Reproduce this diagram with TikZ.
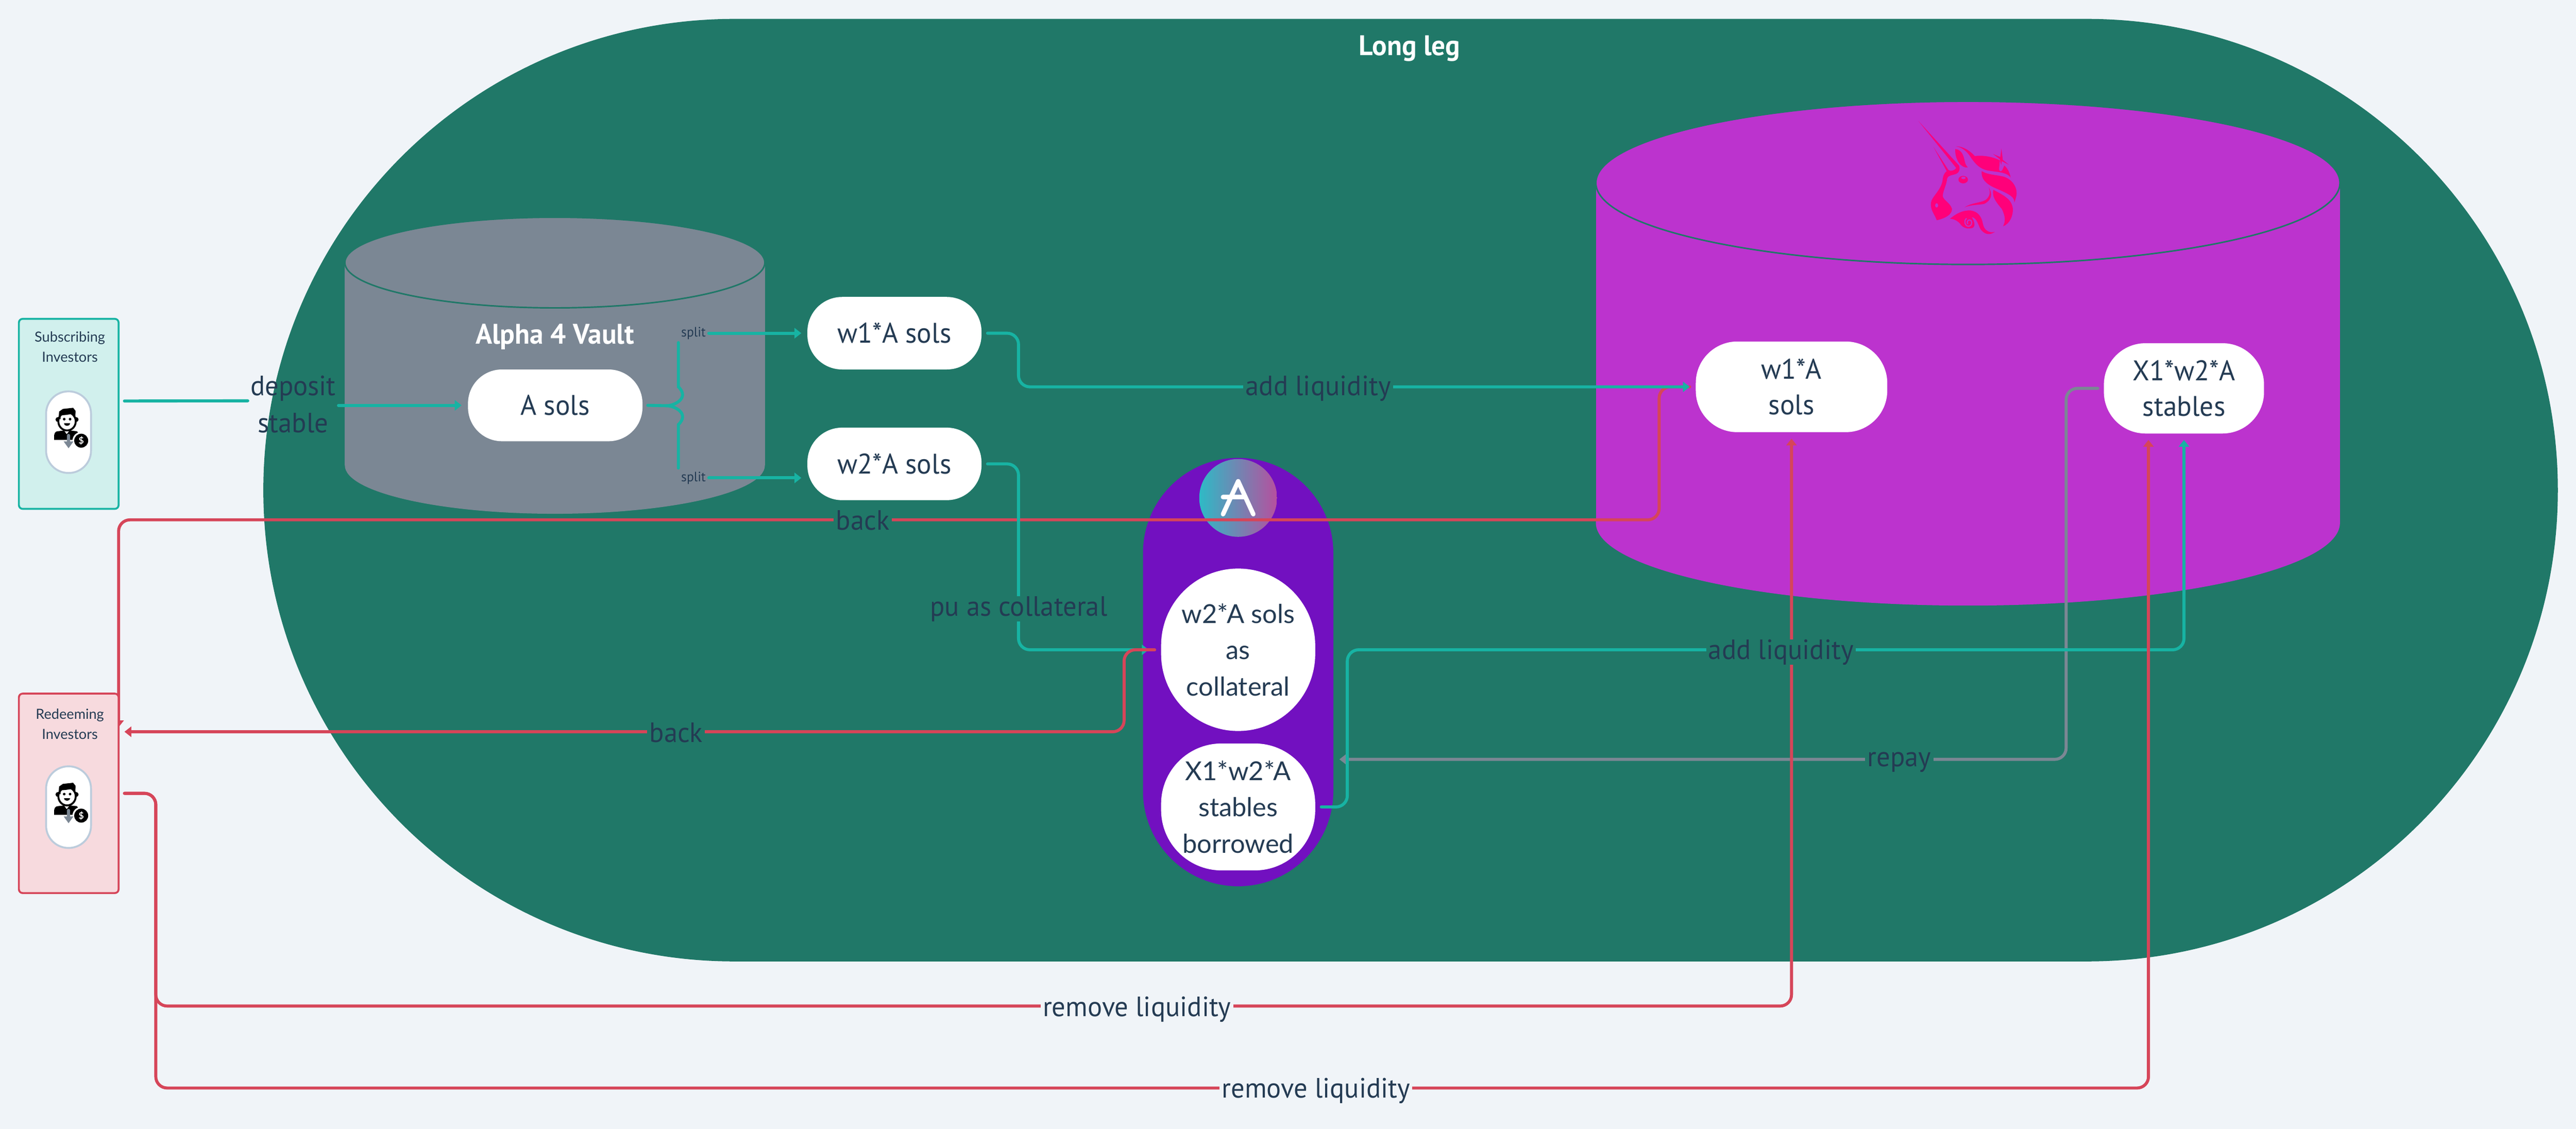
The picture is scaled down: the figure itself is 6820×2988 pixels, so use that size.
\documentclass[tikz,border=0pt]{standalone}
\usepackage{fontspec}
\usepackage{tikz}
\usetikzlibrary{arrows.meta,positioning,calc}

\setmainfont{PT Sans}
\newfontfamily\dinfont[FakeStretch=0.97]{PT Sans}
\newfontfamily\roundfont{Lato}

\definecolor{pagebg}{HTML}{F0F4F8}
\definecolor{leggreen}{HTML}{207868}
\definecolor{vaultgrey}{HTML}{7B8794}
\definecolor{poolpink}{HTML}{BC33CE}
\definecolor{aaveviolet}{HTML}{7210C0}
\definecolor{aaveteal}{HTML}{2EBAC6}
\definecolor{aavepink}{HTML}{B6509E}
\definecolor{linkteal}{HTML}{17B3A3}
\definecolor{linkred}{HTML}{D64559}
\definecolor{inkblue}{HTML}{243B53}
\definecolor{unipink}{HTML}{FF007A}
\definecolor{pillrim}{HTML}{BCCCDC}

\tikzset{
  pillnode/.style={fill=white, text=inkblue, inner sep=0pt, align=center,
    font=\dinfont\fontsize{7.5}{9.8}\selectfont},
  investorbox/.style={draw, line width=0.5pt, rounded corners=1pt, inner sep=0pt,
    minimum width=26.4pt},
  investortext/.style={text=inkblue, align=center, inner sep=0pt,
    font=\roundfont\fontsize{3.7}{5.3}\selectfont},
  iconpill/.style={draw=pillrim, line width=0.5pt, fill=white, rounded corners=5.9pt,
    inner sep=0pt, minimum width=11.9pt, minimum height=21.6pt},
  linklabel/.style={text=inkblue, inner xsep=0.6pt, inner ysep=0pt,
    font=\dinfont\fontsize{7.4}{9.8}\selectfont},
  splitlabel/.style={text=inkblue, inner sep=0pt, font=\dinfont\fontsize{3.6}{4}\selectfont},
  titlelabel/.style={text=white, inner sep=0pt, font=\dinfont\bfseries\fontsize{7.5}{8}\selectfont},
  aavetext/.style={fill=white, text=inkblue, inner sep=0pt, align=center,
    font=\roundfont\fontsize{6.9}{9.6}\selectfont},
  plainlink/.style={line width=0.8pt, draw=linkteal, line cap=round},
  link/.style={line width=0.8pt, rounded corners=3pt, line cap=round,
    -{Triangle[length=1.8pt,width=2.7pt]}},
  tealline/.style={link, draw=linkteal},
  redline/.style={link, draw=linkred},
  greyline/.style={link, draw=vaultgrey},
  investor/.pic={
    % face, hair, body, arrow and badge, from the top of the pill
    \fill[black] (-28,77) circle [radius=6.5] (20,77) circle [radius=6.5];
    \draw[black, fill=white, line width=0.5pt] (-4,82) ellipse [x radius=23, y radius=24];
    \fill[black] (-26,71) -- (-25,56) -- (-15,49) -- (12,46) -- (18.5,54) -- (18,74)
      -- (12,62) -- (-8,65) -- (-21,66) -- (-21,77) -- cycle;
    \fill[black] (-11.5,76) circle [radius=3.5] (4,76) circle [radius=3.5];
    \fill[black] (-12,87) -- (4,87) .. controls (3,96) and (-11,96) .. (-12,87) -- cycle;
    \fill[black] (-38,131) -- (-38,118) .. controls (-37,111) and (-33,108) .. (-28,108)
      -- (-12,106) -- (-5,116) -- (3,106) -- (22,108) -- (28,115) -- (10,131) -- cycle;
    \fill[white] (33.5,133) circle [radius=23];
    \fill[black] (33.5,133) circle [radius=18.5];
    \node (-badge) [text=white, inner sep=0pt, font=\roundfont\bfseries\fontsize{2.4}{3}\selectfont]
      at (33.5,133) {\$};
    \draw[vaultgrey, line width=0.8pt, line cap=round] (0,119) -- (0,136);
    \fill[vaultgrey] (-13,135) -- (13,135) -- (0,153) -- cycle;
  },
}

\begin{document}
\begin{tikzpicture}[x=0.1pt, y=-0.1pt]
  \useasboundingbox (0,0) rectangle (6820,2988);
  \fill[pagebg] (0,0) rectangle (6820,2988);

  % long leg and the two pools
  \node (longleg) [fill=leggreen, rounded corners=124.7pt, inner sep=0pt,
    minimum width=607.5pt, minimum height=249.5pt] at (3734.5,1297.5) {};
  \node (longlegtitle) [titlelabel] at (3732,128) {Long leg};

  \fill[vaultgrey] (913,695) rectangle (2025,1232);
  \fill[vaultgrey] (1469,1232) ellipse [x radius=556, y radius=128];
  \draw[leggreen, fill=vaultgrey, line width=0.4pt] (1469,695) ellipse [x radius=556, y radius=120];
  \node (vaulttitle) [titlelabel] at (1469,892) {Alpha 4 Vault};

  \fill[poolpink] (4226,484) rectangle (6195,1384);
  \fill[poolpink] (5210,1384) ellipse [x radius=985, y radius=219];
  \draw[leggreen, fill=poolpink, line width=0.4pt] (5210,484) ellipse [x radius=985, y radius=216];

  % unicorn
  \begin{scope}[shift={(5050,310)}, x=0.0333pt, y=-0.0333pt]
    \fill[unipink] (88,32) -- (410,385) .. controls (420,410) and (415,440) .. (385,452)
      .. controls (350,465) and (325,460) .. (315,490)
      .. controls (310,540) and (285,580) .. (280,625)
      .. controls (282,660) and (340,680) .. (354,730)
      .. controls (355,775) and (300,805) .. (233,820)
      .. controls (215,770) and (180,740) .. (187,680)
      .. controls (195,630) and (260,590) .. (278,510)
      .. controls (282,470) and (290,445) .. (312,430) -- (207,238) -- (325,420)
      .. controls (340,435) and (375,425) .. (388,405) -- cycle;
    \fill[unipink] (380,254) .. controls (430,260) and (445,300) .. (455,350)
      .. controls (460,375) and (470,390) .. (480,400)
      .. controls (430,410) and (375,340) .. (380,254) -- cycle;
    \fill[unipink] (385,232) .. controls (445,232) and (500,270) .. (535,310)
      .. controls (610,300) and (690,320) .. (735,345) -- (728,410)
      .. controls (725,430) and (745,440) .. (755,420) -- (770,385)
      .. controls (800,410) and (815,450) .. (820,480)
      .. controls (790,440) and (740,440) .. (640,425)
      .. controls (570,410) and (540,370) .. (510,330)
      .. controls (480,280) and (440,240) .. (385,232) -- cycle;
    \fill[unipink] (680,293) -- (738,318) -- (747,250) -- (758,340) -- (805,378)
      -- (750,350) -- (745,380) -- (735,335) -- cycle;
    \fill[unipink] (590,430) .. controls (640,460) and (720,460) .. (770,475)
      .. controls (840,500) and (880,570) .. (865,630)
      .. controls (860,650) and (855,665) .. (850,680)
      .. controls (850,640) and (830,620) .. (700,565)
      .. controls (620,530) and (585,490) .. (590,430) -- cycle;
    \fill[unipink] (683,578) .. controls (760,620) and (830,650) .. (838,730)
      .. controls (840,790) and (810,850) .. (760,868)
      .. controls (780,830) and (780,790) .. (750,730)
      .. controls (700,670) and (670,630) .. (683,578) -- cycle;
    \fill[unipink] (645,558) .. controls (680,610) and (670,660) .. (610,690)
      .. controls (560,700) and (510,695) .. (455,717)
      .. controls (510,680) and (570,685) .. (620,660)
      .. controls (660,630) and (660,590) .. (645,558) -- cycle;
    \fill[unipink] (338,808) .. controls (390,765) and (440,740) .. (500,742)
      .. controls (560,750) and (590,790) .. (600,850)
      .. controls (610,900) and (650,925) .. (695,912)
      .. controls (650,945) and (610,930) .. (580,890)
      .. controls (560,850) and (550,800) .. (510,795)
      .. controls (535,830) and (540,870) .. (520,880)
      .. controls (480,895) and (440,880) .. (420,850)
      .. controls (400,825) and (375,812) .. (338,808) -- cycle;
    \draw[poolpink, line width=0.3pt] (480,850) .. controls (465,825) and (490,810) .. (505,822)
      .. controls (520,840) and (505,870) .. (485,868)
      .. controls (455,865) and (445,825) .. (470,805);
    \fill[unipink] (443,497) ellipse [x radius=38, y radius=30];
    \fill[poolpink] (445,483) ellipse [x radius=18, y radius=10];
    \fill[poolpink] (232,702) ellipse [x radius=12, y radius=17];
  \end{scope}

  % aave
  \node (aave) [fill=aaveviolet, rounded corners=25.2pt, inner sep=0pt,
    minimum width=50.4pt, minimum height=113.4pt] at (3278,1779) {};
  \node (aavelogo) [circle, inner sep=0pt, minimum size=20.6pt, shading angle=-45,
    left color=aaveteal, right color=aavepink] at (3278,1318) {};
  \draw[white, line width=1.2pt, line cap=round, line join=round]
    ([shift={(-40,43)}]aavelogo.center) -- ([shift={(0,-44)}]aavelogo.center)
    -- ([shift={(40,43)}]aavelogo.center);
  \draw[white, line width=1.2pt, line cap=round]
    ([shift={(-40,-2)}]aavelogo.center) -- ([shift={(17,-2)}]aavelogo.center);

  % pills
  \node (asols) [pillnode, rounded corners=9pt, minimum width=46.2pt, minimum height=19pt] at (1470,1073) {A sols};
  \node (wone) [pillnode, rounded corners=9.2pt, minimum width=46.1pt, minimum height=19.2pt] at (2368,882) {w1*A sols};
  \node (wtwo) [pillnode, rounded corners=9.2pt, minimum width=46.1pt, minimum height=19.2pt] at (2368,1228) {w2*A sols};
  \node (uniwone) [pillnode, rounded corners=11pt, minimum width=50.7pt, minimum height=24pt] at (4743,1024) {w1*A\\[-0.4pt]sols};
  \node (unitwo) [pillnode, rounded corners=11pt, minimum width=42.4pt, minimum height=23.9pt] at (5782,1028) {X1*w2*A\\[-0.4pt]stables};
  \node (coll) [aavetext, rounded corners=20.4pt, minimum width=40.8pt, minimum height=43pt] at (3278,1720) {w2*A sols\\as\\collateral};
  \node (borrow) [aavetext, rounded corners=16pt, minimum width=40.8pt, minimum height=33.6pt] at (3278,2136) {X1*w2*A\\stables\\borrowed};

  % back to the redeeming box, its tip goes under the box
  \node (redeemedge) [coordinate] at (314,2100) {};
  \draw[redline] ([shift={(-14,0)}]uniwone.west) -- ++(-81,0) -- ++(0,352) -| ([shift={(0,-175)}]redeemedge);

  % investors
  \node (subs) [investorbox, draw=linkteal, fill=linkteal!20!white, minimum height=50.3pt] at (182,1095.5) {};
  \node (redeembox) [investorbox, draw=linkred, fill=linkred!20!white, minimum height=52.8pt] at (182,2100) {};
  \node (substext) [investortext] at (185,918) {Subscribing\\Investors};
  \node (redeemtext) [investortext] at (185,1917) {Redeeming\\Investors};
  \node (subspill) [iconpill] at (181.5,1144) {};
  \node (redeempill) [iconpill] at (181.5,2136.5) {};
  \pic (subsicon) at (subspill.north) {investor};
  \pic (redeemicon) at (redeempill.north) {investor};

  % deposit, split
  \node (deposit) [linklabel, align=center, inner sep=0pt] at (776,1070) {deposit\\stable};
  \draw[plainlink] ([shift={(13,-34)}]subs.east) -- ([shift={(-5,-9)}]deposit.west);
  \draw[tealline] ([shift={(5,3)}]deposit.east) -- ([shift={(-15,0)}]asols.west);

  \coordinate (forkmid) at (1765,1074);
  \coordinate (forktop) at (1796,907);
  \coordinate (forkbottom) at (1796,1239);
  \draw[plainlink] ([shift={(12,0)}]asols.east) -- (forkmid)
    .. controls ++(20,0) and ++(31,30) .. ++(31,-50) -- (forktop);
  \draw[plainlink] (forkmid)
    .. controls ++(20,0) and ++(31,-30) .. ++(31,50) -- (forkbottom);
  \node (splitone) [splitlabel] at (1836,882) {split};
  \node (splittwo) [splitlabel] at (1836,1265) {split};
  \draw[tealline] ([shift={(6,0)}]splitone.east) -- ([shift={(-14,0)}]wone.west);
  \draw[tealline] ([shift={(6,0)}]splittwo.east) -- ([shift={(-14,37)}]wtwo.west);

  % teal and grey links
  \draw[tealline] ([shift={(14,0)}]wone.east) -- ++(82,0) |- ([shift={(-14,0)}]uniwone.west);
  \draw[tealline] ([shift={(14,0)}]wtwo.east) -- ++(82,0) |- ([shift={(-31,0)}]coll.west);
  \draw[greyline] ([shift={(-14,0)}]unitwo.west) -- ++(-84,0) |- ([shift={(62,-126)}]borrow.east);
  \draw[tealline] ([shift={(14,0)}]borrow.east) -- ++(69,0) -- ++(0,-416) -| ([shift={(0,15)}]unitwo.south);

  % red links
  \draw[redline] ([shift={(-15,0)}]coll.west) -- ++(-81,0) |- ([shift={(13,-163)}]redeembox.east);
  \draw[redline] ([shift={(13,0)}]redeembox.east) -- ++(83,0) -- ++(0,563) -| ([shift={(0,15)}]uniwone.south);
  \draw[redline] ([shift={(13,0)}]redeembox.east) -- ++(83,0) -- ++(0,780) -| ([shift={(-94,15)}]unitwo.south);

  % labels on the links
  \node (addone) [linklabel, fill=leggreen] at (3490,1028) {add liquidity};
  \node (addtwo) [linklabel, fill=leggreen] at (4715,1726) {add liquidity};
  \node (puas) [linklabel, fill=leggreen] at (2697,1612) {pu as collateral};
  \node (backone) [linklabel, fill=leggreen] at (2284,1378) {back};
  \node (backtwo) [linklabel, fill=leggreen] at (1790,1939) {back};
  \node (repay) [linklabel, fill=leggreen] at (5028,2017) {repay};
  \node (removeone) [linklabel, fill=pagebg] at (3010,2672) {remove liquidity};
  \node (removetwo) [linklabel, fill=pagebg] at (3484,2888) {remove liquidity};
\end{tikzpicture}
\end{document}
